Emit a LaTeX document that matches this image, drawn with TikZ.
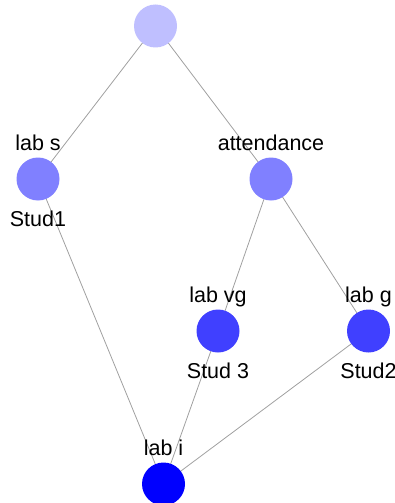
\documentclass[tikz,border=0pt]{standalone}
\usepackage{fontspec}
\setmainfont{Liberation Sans}
\usepackage{tikz}
\usetikzlibrary{
  positioning,
  backgrounds
}

\begin{document}
\begin{tikzpicture}[
      x=1pt,y=-1pt,
      concept/.style={
         circle,
         minimum size=43pt,
         inner sep=0pt,
         draw=none
      },
      top/.style={concept,fill={rgb,255:red,191;green,191;blue,255}},
      mid/.style={concept,fill={rgb,255:red,128;green,128;blue,255}},
      low/.style={concept,fill={rgb,255:red,64;green,64;blue,255}},
      bottom/.style={concept,fill={rgb,255:red,0;green,0;blue,255}},
      attr/.style={label={[text depth=0pt,label distance=3pt]above:{#1}}},
      obj/.style={label={[label distance=7pt]below:{#1}}},
      link/.style={draw={rgb,255:red,160;green,160;blue,160},line width=0.8pt},
      font=\fontsize{21.5}{26}\selectfont
    ]
    \useasboundingbox (0,0) rectangle (394,503);
    \node (n1) [top] at (155.5,26) {};
    \node (n21) [mid, attr={lab s}, obj={Stud1}] at (38,179) {};
    \node (n22) [mid, attr={attendance}] at (271,179) {};
    \node (n31) [low, attr={lab vg}, obj={Stud 3}] at (218,331) {};
    \node (n32) [low, attr={lab g}, obj={Stud2}] at (368.5,331) {};
    \node (n41) [bottom, attr={lab i}] at (163.5,484) {};
    \begin{scope}[on background layer]
      \draw[link] (n1.center) -- (n21.center);
      \draw[link] (n1.center) -- (n22.center);
      \draw[link] (n22.center) -- (n31.center);
      \draw[link] (n22.center) -- (n32.center);
      \draw[link] (n21.center) -- (n41.center);
      \draw[link] (n31.center) -- (n41.center);
      \draw[link] (n32.center) -- (n41.center);
    \end{scope}
\end{tikzpicture}
\end{document}
